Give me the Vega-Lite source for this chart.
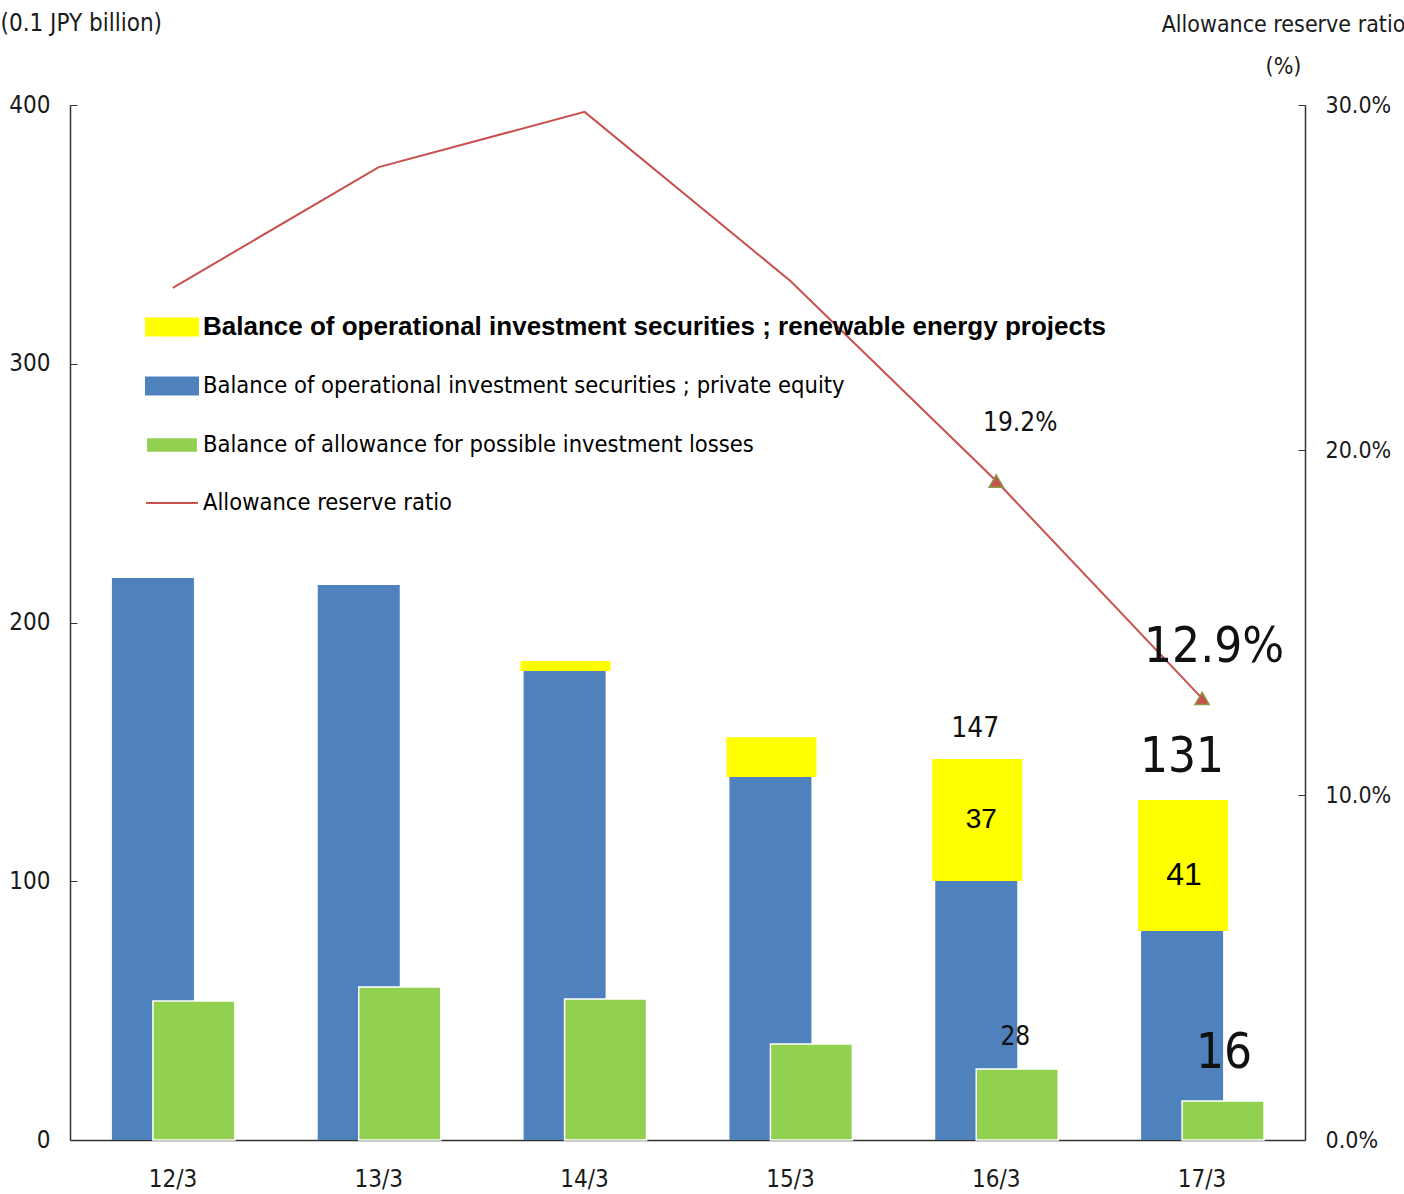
{
  "$schema": "https://vega.github.io/schema/vega-lite/v6.json",
  "width": 1235,
  "height": 1035,
  "autosize": "none",
  "padding": {"left": 70, "top": 105, "right": 99, "bottom": 54},
  "background": "white",
  "config": {
    "view": {"stroke": null},
    "font": "DejaVu Sans Condensed, sans-serif",
    "axis": {
      "labelFont": "DejaVu Sans Condensed, sans-serif",
      "titleFont": "DejaVu Sans Condensed, sans-serif",
      "labelFontSize": 24,
      "labelColor": "#1a1a1a",
      "titleColor": "#1a1a1a",
      "titleFontWeight": "normal",
      "titleFontSize": 24,
      "domainColor": "#333333",
      "tickColor": "#333333",
      "domainWidth": 1.5,
      "grid": false
    }
  },
  "data": {
    "values": [
      {"cat": "12/3", "pe": 217.2, "allow": 53.7, "ratio": 24.7},
      {"cat": "13/3", "pe": 214.5, "allow": 59.1, "ratio": 28.2},
      {"cat": "14/3", "pe": 181.3, "total": 185.1, "allow": 54.5, "ratio": 29.8},
      {"cat": "15/3", "pe": 140.3, "total": 155.7, "allow": 37.1, "ratio": 24.9},
      {"cat": "16/3", "pe": 100.1, "total": 147.2, "allow": 27.4, "ratio": 19.1, "totalLabel": "147", "resLabel": "37", "allowLabel": "28", "ratioLabel": "19.2%"},
      {"cat": "17/3", "pe": 80.8, "total": 131.4, "allow": 15.1, "ratio": 12.8, "totalLabel": "131", "resLabel": "41", "allowLabel": "16", "ratioLabel": "12.9%"}
    ]
  },
  "encoding": {
    "x": {
      "field": "cat",
      "type": "nominal",
      "sort": null,
      "scale": {"paddingInner": 0, "paddingOuter": 0},
      "axis": {"title": null, "labelAngle": 0, "ticks": false, "labelPadding": 27, "labelFontSize": 24}
    }
  },
  "layer": [
    {
      "layer": [
        {
          "mark": {"type": "bar", "width": 82, "xOffset": -20},
          "encoding": {
            "y": {
              "field": "pe",
              "type": "quantitative",
              "scale": {"domain": [0, 400]},
              "title": "(0.1 JPY billion)",
              "axis": {
                "values": [0, 100, 200, 300, 400],
                "titleAngle": 0,
                "titleAlign": "left",
                "titleBaseline": "alphabetic",
                "titleX": -70,
                "titleY": -75,
                "tickSize": -7,
                "labelPadding": 27
              }
            },
            "color": {
              "datum": "Balance of operational investment securities ; private equity",
              "type": "nominal",
              "scale": {
                "domain": [
                  "Balance of operational investment securities ; renewable energy projects",
                  "Balance of operational investment securities ; private equity",
                  "Balance of allowance for possible investment losses",
                  "Allowance reserve ratio"
                ],
                "range": ["#FFFF00", "#4F81BD", "#92D050", "#C8504D"]
              },
              "legend": {
                "title": null,
                "orient": "none",
                "legendX": 75,
                "legendY": 195,
                "padding": 0,
                "labelLimit": 1200,
                "rowPadding": 19,
                "symbolSize": 2704,
                "labelOffset": 4,
                "encode": {
                  "symbols": {
                    "update": {
                      "shape": {"signal": "datum.value == 'Allowance reserve ratio' ? 'M-1,0H1' : (datum.value == 'Balance of allowance for possible investment losses' ? 'M-0.92,-0.22H0.92V0.22H-0.92Z' : 'M-1,-0.33H1V0.33H-1Z')"},
                      "fill": {"signal": "datum.value == 'Allowance reserve ratio' ? 'transparent' : scale('color', datum.value)"},
                      "stroke": {"signal": "datum.value == 'Allowance reserve ratio' ? '#C8504D' : 'transparent'"},
                      "strokeWidth": {"value": 2},
                      "opacity": {"value": 1}
                    }
                  },
                  "labels": {
                    "update": {
                      "font": {"signal": "datum.value == 'Balance of operational investment securities ; renewable energy projects' ? 'Liberation Sans, Arial, sans-serif' : 'DejaVu Sans Condensed, sans-serif'"},
                      "fontSize": {"signal": "datum.value == 'Balance of operational investment securities ; renewable energy projects' ? 26 : 23.5"},
                      "fontWeight": {"signal": "datum.value == 'Balance of operational investment securities ; renewable energy projects' ? 'bold' : 'normal'"},
                      "fill": {"value": "#000000"}
                    }
                  }
                }
              }
            }
          }
        },
        {
          "transform": [{"filter": "isValid(datum.total)"}],
          "mark": {"type": "bar", "width": 90, "xOffset": -19},
          "encoding": {
            "y": {"field": "pe", "type": "quantitative", "title": "(0.1 JPY billion)"},
            "y2": {"field": "total"},
            "color": {"datum": "Balance of operational investment securities ; renewable energy projects", "type": "nominal"}
          }
        },
        {
          "mark": {"type": "bar", "width": 82, "xOffset": 21, "stroke": "white", "strokeWidth": 1.5},
          "encoding": {
            "y": {"field": "allow", "type": "quantitative", "title": "(0.1 JPY billion)"},
            "color": {"datum": "Balance of allowance for possible investment losses", "type": "nominal"}
          }
        },
        {
          "transform": [{"filter": "datum.cat == '16/3'"}],
          "mark": {"type": "text", "fontSize": 28, "baseline": "alphabetic", "dy": -22, "xOffset": -21, "color": "#111111"},
          "encoding": {
            "y": {"field": "total", "type": "quantitative", "title": "(0.1 JPY billion)"},
            "text": {"field": "totalLabel"}
          }
        },
        {
          "transform": [{"filter": "datum.cat == '17/3'"}],
          "mark": {"type": "text", "fontSize": 49, "baseline": "alphabetic", "dy": -28, "xOffset": -20, "color": "#111111"},
          "encoding": {
            "y": {"field": "total", "type": "quantitative", "title": "(0.1 JPY billion)"},
            "text": {"field": "totalLabel"}
          }
        },
        {
          "transform": [{"filter": "datum.cat == '16/3'"}],
          "mark": {"type": "text", "font": "Liberation Sans, Arial, sans-serif", "fontSize": 28, "baseline": "alphabetic", "dy": 69, "xOffset": -15, "color": "#000000"},
          "encoding": {
            "y": {"field": "total", "type": "quantitative", "title": "(0.1 JPY billion)"},
            "text": {"field": "resLabel"}
          }
        },
        {
          "transform": [{"filter": "datum.cat == '17/3'"}],
          "mark": {"type": "text", "font": "Liberation Sans, Arial, sans-serif", "fontSize": 32, "baseline": "alphabetic", "dy": 85, "xOffset": -18, "color": "#000000"},
          "encoding": {
            "y": {"field": "total", "type": "quantitative", "title": "(0.1 JPY billion)"},
            "text": {"field": "resLabel"}
          }
        },
        {
          "transform": [{"filter": "datum.cat == '16/3'"}],
          "mark": {"type": "text", "fontSize": 26, "baseline": "alphabetic", "dy": -24, "xOffset": 19, "color": "#111111"},
          "encoding": {
            "y": {"field": "allow", "type": "quantitative", "title": "(0.1 JPY billion)"},
            "text": {"field": "allowLabel"}
          }
        },
        {
          "transform": [{"filter": "datum.cat == '17/3'"}],
          "mark": {"type": "text", "fontSize": 49, "baseline": "alphabetic", "dy": -33, "xOffset": 22, "color": "#111111"},
          "encoding": {
            "y": {"field": "allow", "type": "quantitative", "title": "(0.1 JPY billion)"},
            "text": {"field": "allowLabel"}
          }
        }
      ]
    },
    {
      "layer": [
        {
          "mark": {"type": "line", "strokeWidth": 2},
          "encoding": {
            "y": {
              "field": "ratio",
              "type": "quantitative",
              "scale": {"domain": [0, 30]},
              "title": ["Allowance reserve ratio", "(%)"],
              "axis": {
                "orient": "right",
                "values": [0, 10, 20, 30],
                "labelExpr": "format(datum.value, '.1f') + '%'",
                "labelFontSize": 23,
                "titleFontSize": 23,
                "titleAngle": 0,
                "titleAlign": "center",
                "titleBaseline": "alphabetic",
                "titleX": -22,
                "titleY": -74,
                "titleLineHeight": 42,
                "tickSize": -7,
                "labelPadding": 27
              }
            },
            "color": {"datum": "Allowance reserve ratio", "type": "nominal"}
          }
        },
        {
          "transform": [{"filter": "isValid(datum.ratioLabel)"}],
          "mark": {"type": "point", "shape": "triangle-up", "size": 200, "filled": true, "fill": "#C8504D", "stroke": "#8C9A45", "strokeWidth": 1.5, "opacity": 1},
          "encoding": {
            "y": {"field": "ratio", "type": "quantitative", "title": ["Allowance reserve ratio", "(%)"]}
          }
        },
        {
          "transform": [{"filter": "datum.cat == '16/3'"}],
          "mark": {"type": "text", "fontSize": 26, "baseline": "alphabetic", "dy": -50, "xOffset": 24, "color": "#111111"},
          "encoding": {
            "y": {"field": "ratio", "type": "quantitative", "title": ["Allowance reserve ratio", "(%)"]},
            "text": {"field": "ratioLabel"}
          }
        },
        {
          "transform": [{"filter": "datum.cat == '17/3'"}],
          "mark": {"type": "text", "fontSize": 49, "baseline": "alphabetic", "dy": -36, "xOffset": 12, "color": "#111111"},
          "encoding": {
            "y": {"field": "ratio", "type": "quantitative", "title": ["Allowance reserve ratio", "(%)"]},
            "text": {"field": "ratioLabel"}
          }
        }
      ]
    }
  ],
  "resolve": {"scale": {"y": "independent"}}
}
